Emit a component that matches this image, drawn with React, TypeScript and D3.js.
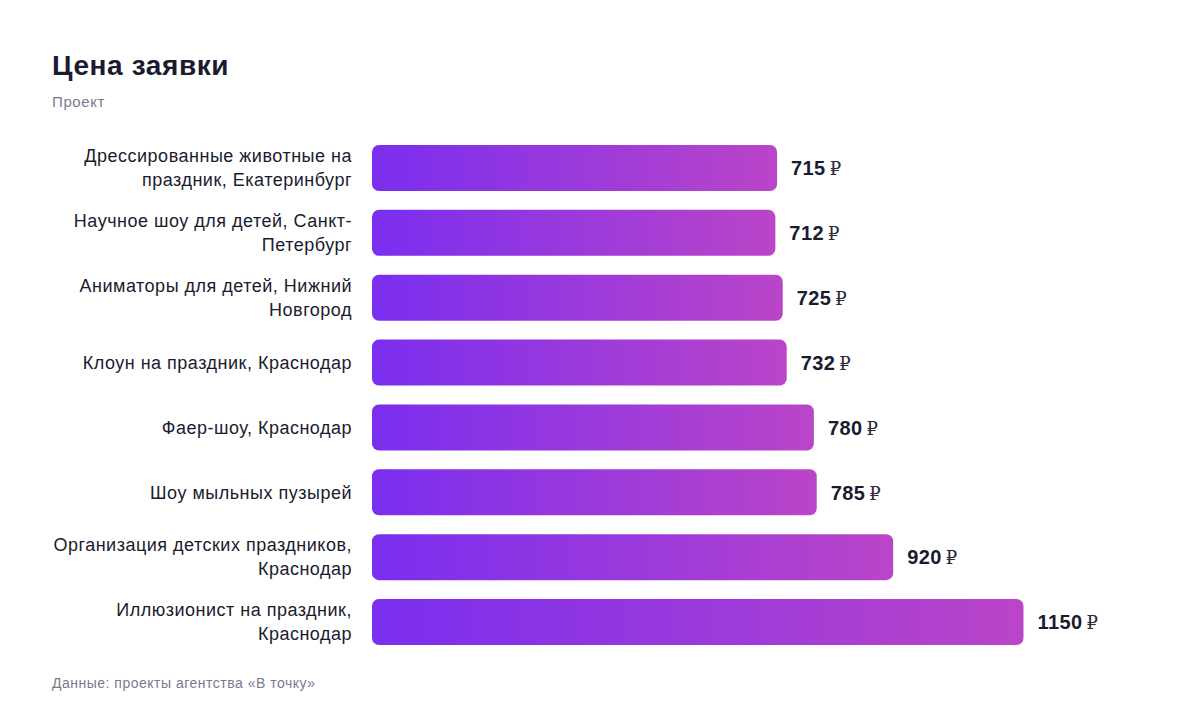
import React from "react";
import * as d3 from "d3";

const categories: string[][] = [
  ["Дрессированные животные на", "праздник, Екатеринбург"],
  ["Научное шоу для детей, Санкт-", "Петербург"],
  ["Аниматоры для детей, Нижний", "Новгород"],
  ["Клоун на праздник, Краснодар"],
  ["Фаер-шоу, Краснодар"],
  ["Шоу мыльных пузырей"],
  ["Организация детских праздников,", "Краснодар"],
  ["Иллюзионист на праздник,", "Краснодар"],
];
const values: number[] = [715, 712, 725, 732, 780, 785, 920, 1150];
const title = "Цена заявки";
const subtitle = "Проект";
const source = "Данные: проекты агентства «В точку»";
const currency = "₽";

const W = 1200;
const H = 712;
const FONT = "'Liberation Sans', Arial, Helvetica, sans-serif";

export default function App() {
  const left = 372;
  const top = 145;
  const step = 64.86;
  const barH = 46;
  const ids = values.map((_, i) => String(i));
  const y = d3
    .scaleBand<string>()
    .domain(ids)
    .range([top - (step - barH) / 2, top - (step - barH) / 2 + step * values.length])
    .paddingInner((step - barH) / step)
    .paddingOuter((step - barH) / step / 2);
  const x = d3.scaleLinear().domain([0, 1150]).range([left, 1023.5]);

  return (
    <svg
      width={W}
      height={H}
      style={{ position: "absolute", left: 0, top: 0, display: "block", background: "#fff" }}
      fontFamily={FONT}
    >
      <defs>
        <linearGradient id="barGrad" x1="0" x2="1" y1="0" y2="0">
          <stop offset="0%" stopColor="#7A2EEF" />
          <stop offset="100%" stopColor="#BA45C8" />
        </linearGradient>
      </defs>
      <rect width={W} height={H} fill="#fff" />
      <text x={52} y={75} fontSize={28} fontWeight={700} fill="#1b1b2f" letterSpacing={0.6}>
        {title}
      </text>
      <text x={52} y={107} fontSize={15} fill="#7a7a8e" letterSpacing={0.6}>
        {subtitle}
      </text>
      {values.map((v, i) => {
        const by = y(String(i))!;
        const bh = y.bandwidth();
        const cy = by + bh / 2;
        const lines = categories[i];
        const lh = 24;
        return (
          <g key={i}>
            <rect
              x={x(0)}
              y={by}
              width={x(v) - x(0)}
              height={bh}
              rx={7}
              ry={7}
              fill="url(#barGrad)"
            />
            {lines.map((ln, j) => (
              <text
                key={j}
                x={352}
                y={cy + (j - (lines.length - 1) / 2) * lh}
                dy="0.35em"
                textAnchor="end"
                fontSize={18}
                letterSpacing={0.5}
                fill="#1b1b2f"
              >
                {ln}
              </text>
            ))}
            <text
              x={x(v) + 14}
              y={cy}
              dy="0.36em"
              fontSize={20}
              fontWeight={700}
              letterSpacing={0.4}
              fill="#1b1b2f"
            >
              {v}
              <tspan fontWeight={400} fontSize={18} fontFamily="'DejaVu Serif', serif" fill="#2a2a3a" dx={4}>
                {currency}
              </tspan>
            </text>
          </g>
        );
      })}
      <text x={52} y={688} fontSize={14} fill="#7a7a8e" letterSpacing={0.5}>
        {source}
      </text>
    </svg>
  );
}
